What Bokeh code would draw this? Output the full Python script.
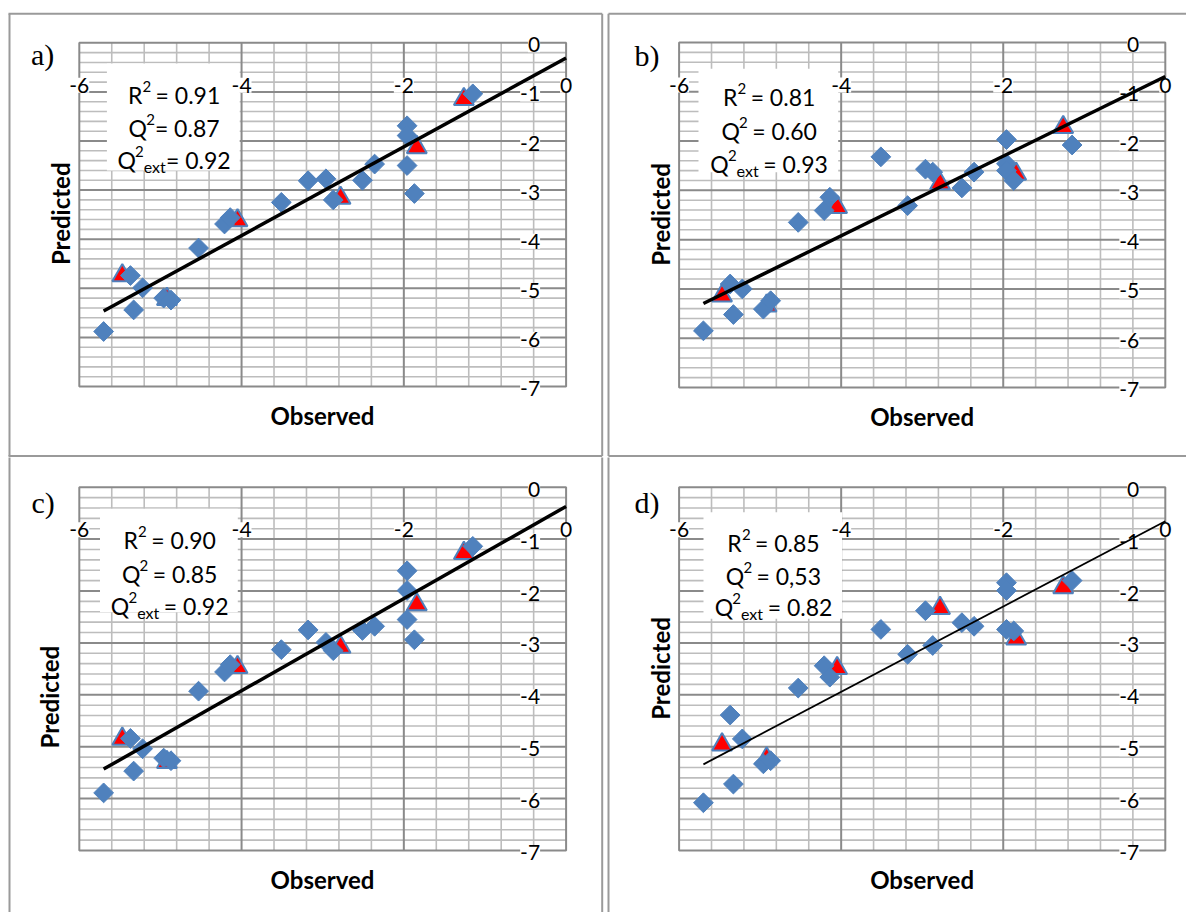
import numpy as np
from bokeh.plotting import figure
from bokeh.models import Range1d
from bokeh.layouts import gridplot
from bokeh.core.properties import value
from bokeh.embed import file_html
from bokeh.resources import INLINE

# ---------------- data ----------------
X_MIN, X_MAX = -6.0, 0.0
Y_MIN, Y_MAX = -7.0, 0.0
x_major_step, x_minor_step = 2.0, 0.4
y_major_step, y_minor_step = 1.0, 0.2
x_tick_labels = [-6, -4, -2, 0]
y_tick_labels = [0, -1, -2, -3, -4, -5, -6, -7]

panel_labels = ["a)", "b)", "c)", "d)"]
x_title = "Observed"
y_title = "Predicted"

# training set (diamonds): observed activity
obs_train = [-5.70, -5.37, -5.33, -5.22, -4.96, -4.87, -4.53, -4.21, -4.14, -3.51,
             -3.18, -2.96, -2.87, -2.51, -2.36, -1.96, -1.96, -1.96, -1.87, -1.15]
# test set (triangles): observed activity
obs_test = [-5.47, -4.92, -4.05, -2.78, -1.84, -1.26]

pred_train_a = [-5.88, -4.74, -5.44, -4.99, -5.20, -5.24, -4.18, -3.69, -3.56, -3.25,
                -2.81, -2.77, -3.20, -2.80, -2.47, -1.69, -1.89, -2.50, -3.07, -1.04]
pred_train_b = [-5.85, -4.90, -5.52, -5.00, -5.41, -5.24, -3.65, -3.41, -3.14, -2.32,
                -3.31, -2.57, -2.63, -2.95, -2.63, -1.97, -2.46, -2.60, -2.80, -2.08]
pred_train_c = [-5.89, -4.84, -5.47, -5.04, -5.22, -5.27, -3.93, -3.56, -3.42, -3.13,
                -2.75, -2.99, -3.15, -2.76, -2.68, -1.61, -1.99, -2.55, -2.94, -1.14]
pred_train_d = [-6.08, -4.39, -5.72, -4.85, -5.33, -5.27, -3.87, -3.44, -3.66, -2.74,
                -3.22, -2.38, -3.05, -2.61, -2.68, -1.84, -1.99, -2.74, -2.77, -1.80]

pred_test_a = [-4.74, -5.22, -3.62, -3.16, -2.13, -1.15]
pred_test_b = [-5.14, -5.34, -3.34, -2.86, -2.67, -1.72]
pred_test_c = [-4.85, -5.30, -3.47, -3.08, -2.26, -1.27]
pred_test_d = [-4.96, -5.23, -3.49, -2.33, -2.92, -1.93]

r2_values = ["0.91", "0.81", "0.90", "0.85"]
q2_values = ["0.87", "0.60", "0.85", "0,53"]
q2ext_values = ["0.92", "0.93", "0.92", "0.82"]
space_before_eq = [False, True, True, True]   # as printed in panel a vs b-d

trend_slope = [0.904, 0.808, 0.888, 0.822]
trend_intercept = [-0.31, -0.69, -0.37, -0.655]

pred_train = [pred_train_a, pred_train_b, pred_train_c, pred_train_d]
pred_test = [pred_test_a, pred_test_b, pred_test_c, pred_test_d]

# ---------------- layout / style (page pixel positions) ----------------
LAYOUT = [
    dict(fig=(0, 0, 605, 457), plot=(78.8, 565.6, 42.3, 386.0),
         box=(106.4, 239.2, 63.0, 170.0), base=(94.0, 127.0, 159.0),
         lab=(30.5, 54.0), ytitle=(60.3, 213.3), xtitle=(322.0, 415.0), tw=3.5,
         borders=[((9.0, 13.3), (9.0, 455.5)), ((8, 13.3), (601.7, 13.3)),
                  ((601.7, 13.3), (601.7, 455.5)), ((8, 455.5), (601.7, 455.5))]),
    dict(fig=(605, 0, 581, 457), plot=(678.6, 1164.8, 42.0, 387.0),
         box=(698.0, 837.7, 68.3, 171.7), base=(96.7, 130.0, 163.3),
         lab=(634.0, 55.0), ytitle=(660.0, 214.0), xtitle=(921.6, 415.7), tw=3.5,
         borders=[((608.0, 13.3), (608.0, 455.5)), ((608.0, 13.3), (1190, 13.3)),
                  ((608.0, 455.5), (1190, 455.5))]),
    dict(fig=(0, 457, 605, 455), plot=(78.8, 565.6, 486.7, 850.0),
         box=(99.5, 237.3, 508.3, 611.7), base=(539.0, 573.3, 605.0),
         lab=(31.0, 501.7), ytitle=(48.5, 696.7), xtitle=(322.0, 879.0), tw=3.5,
         borders=[((9.0, 456), (9.0, 915)), ((601.7, 456), (601.7, 915))]),
    dict(fig=(605, 457, 581, 455), plot=(678.6, 1164.8, 486.7, 850.0),
         box=(703.0, 841.5, 511.7, 618.3), base=(542.3, 575.0, 606.7),
         lab=(634.0, 501.7), ytitle=(660.0, 668.0), xtitle=(921.6, 879.0), tw=1.8,
         borders=[((608.0, 456), (608.0, 915))]),
]

MINOR_C = "#BDBDBD"
MAJOR_C = "#8A8A8A"
FRAME_C = "#9A9A9A"
BLUE = "#4F81BD"
RED = "#FF0000"
SANS = value("Lato")
SERIF = value("Liberation Serif")
MAIN_FS = 23.0
SUP_FS = 15.0
SUB_FS = 16.0
SUP_RISE = 8.5
SUB_DROP = 6.5
TICK_FS = "21px"
TITLE_FS = "24px"

# approximate Lato advance widths (em)
LATO_W = {"0": 0.58, "1": 0.58, "2": 0.58, "3": 0.58, "4": 0.58, "5": 0.58, "6": 0.58,
          "7": 0.58, "8": 0.58, "9": 0.58, ".": 0.232, ",": 0.232, " ": 0.193, "=": 0.58,
          "R": 0.633, "Q": 0.765, "e": 0.537, "x": 0.50, "t": 0.352}


def text_w(s, fs):
    return sum(LATO_W.get(ch, 0.55) for ch in s) * fs


def ticks(lo, hi, step):
    n = int(round((hi - lo) / step))
    return [round(lo + k * step, 6) for k in range(n + 1)]


def is_multiple(v, step):
    q = v / step
    return abs(q - round(q)) < 1e-6


def build_panel(i):
    cfg = LAYOUT[i]
    fx, fy, fw, fh = cfg["fig"]
    Lp, Rp, Tp, Bp = cfg["plot"]
    sxu = (Rp - Lp) / (X_MAX - X_MIN)
    syu = (Bp - Tp) / (Y_MAX - Y_MIN)
    xr = Range1d(X_MIN - (Lp - fx) / sxu, X_MAX + (fx + fw - Rp) / sxu)
    yr = Range1d(Y_MIN - (fy + fh - Bp) / syu, Y_MAX + (Tp - fy) / syu)

    def X(px):
        return X_MIN + (px - Lp) / sxu

    def Y(py):
        return Y_MAX - (py - Tp) / syu

    p = figure(width=fw, height=fh, x_range=xr, y_range=yr, output_backend="svg",
               toolbar_location=None, x_axis_location=None, y_axis_location=None,
               min_border=0, title=None, outline_line_color=None,
               background_fill_color="white", border_fill_color="white")
    p.grid.visible = False

    # gridlines
    xt = ticks(X_MIN, X_MAX, x_minor_step)
    yt = ticks(Y_MIN, Y_MAX, y_minor_step)
    x_inner = [v for v in xt if X_MIN < v < X_MAX]
    y_inner = [v for v in yt if Y_MIN < v < Y_MAX]
    x_minor = [v for v in x_inner if not is_multiple(v, x_major_step)]
    x_major = [v for v in x_inner if is_multiple(v, x_major_step)]
    y_minor = [v for v in y_inner if not is_multiple(v, y_major_step)]
    y_major = [v for v in y_inner if is_multiple(v, y_major_step)]

    p.segment(x0=x_minor, y0=Y_MIN, x1=x_minor, y1=Y_MAX, line_color=MINOR_C, line_width=1.6)
    p.segment(x0=X_MIN, y0=y_minor, x1=X_MAX, y1=y_minor, line_color=MINOR_C, line_width=1.6)
    p.segment(x0=x_major, y0=Y_MIN, x1=x_major, y1=Y_MAX, line_color=MAJOR_C, line_width=2)
    p.segment(x0=X_MIN, y0=y_major, x1=X_MAX, y1=y_major, line_color=MAJOR_C, line_width=2)
    p.quad(left=X_MIN, right=X_MAX, bottom=Y_MIN, top=Y_MAX, fill_color=None,
           line_color=MAJOR_C, line_width=2)

    # statistics box
    bl, br, bt, bb = cfg["box"]
    p.quad(left=X(bl), right=X(br), top=Y(bt), bottom=Y(bb), fill_color="white", line_color=None)
    cxp = (bl + br) / 2
    b1, b2, b3 = cfg["base"]

    def draw_line(pieces, baseline):
        total = sum(text_w(s, fs) for s, fs, dy in pieces)
        xcur = cxp - total / 2
        for s, fs, dy in pieces:
            lead = len(s) - len(s.lstrip(" "))
            xstart = xcur + text_w(" " * lead, fs)
            p.text(x=[X(xstart)], y=[Y(baseline + dy)], text=[s.lstrip(" ")],
                   text_font=SANS, text_font_size=f"{fs}px", text_color="black",
                   text_align="left", text_baseline="alphabetic")
            xcur += text_w(s, fs)

    sp = " " if space_before_eq[i] else ""
    draw_line([("R", MAIN_FS, 0), ("2", SUP_FS, -SUP_RISE), (" = " + r2_values[i], MAIN_FS, 0)], b1)
    draw_line([("Q", MAIN_FS, 0), ("2", SUP_FS, -SUP_RISE), (sp + "= " + q2_values[i], MAIN_FS, 0)], b2)
    draw_line([("Q", MAIN_FS, 0), ("2", SUP_FS, -SUP_RISE), ("ext", SUB_FS, SUB_DROP),
               (sp + "= " + q2ext_values[i], MAIN_FS, 0)], b3)

    # tick labels
    tick = dict(text_font=SANS, text_font_size=TICK_FS, text_color="black", text_baseline="middle",
                background_fill_color="white")
    p.text(x=x_tick_labels, y=[Y_MAX] * len(x_tick_labels), text=[str(v) for v in x_tick_labels],
           text_align="center", y_offset=42.5, **tick)
    p.text(x=[X_MAX] * len(y_tick_labels), y=y_tick_labels, text=[str(v) for v in y_tick_labels],
           text_align="right", x_offset=-26, y_offset=2, **tick)

    # titles
    lx, ly = cfg["lab"]
    p.text(x=[X(lx)], y=[Y(ly)], text=[panel_labels[i]], text_font=SERIF, text_font_size="30px",
           text_align="left", text_baseline="alphabetic", text_color="black")
    tx, ty = cfg["ytitle"]
    p.text(x=[X(tx)], y=[Y(ty)], text=[y_title], angle=np.pi / 2, text_font=SANS,
           text_font_size=TITLE_FS, text_font_style="bold", text_align="center",
           text_baseline="middle", text_color="black")
    ox, oy = cfg["xtitle"]
    p.text(x=[X(ox)], y=[Y(oy)], text=[x_title], text_font=SANS, text_font_size=TITLE_FS,
           text_font_style="bold", text_align="center", text_baseline="alphabetic", text_color="black")

    # points
    p.scatter(obs_test, pred_test[i], marker="triangle", size=20, fill_color=RED,
              line_color=BLUE, line_width=2)
    p.scatter(obs_train, pred_train[i], marker="square", angle=np.pi / 4, size=14,
              fill_color=BLUE, line_color=BLUE, line_width=1)

    # trendline
    x_lo = min(obs_train + obs_test)
    tx_ = [x_lo, X_MAX]
    ty_ = [trend_slope[i] * v + trend_intercept[i] for v in tx_]
    p.line(tx_, ty_, line_color="black", line_width=cfg["tw"])

    # panel frame
    bxs = [[X(a[0]), X(b[0])] for a, b in cfg["borders"]]
    bys = [[Y(a[1]), Y(b[1])] for a, b in cfg["borders"]]
    p.multi_line(xs=bxs, ys=bys, line_color=FRAME_C, line_width=2)
    return p


panels = [build_panel(i) for i in range(4)]
grid = gridplot([[panels[0], panels[1]], [panels[2], panels[3]]], toolbar_location=None)

open("out.html", "w").write(file_html(grid, INLINE))
